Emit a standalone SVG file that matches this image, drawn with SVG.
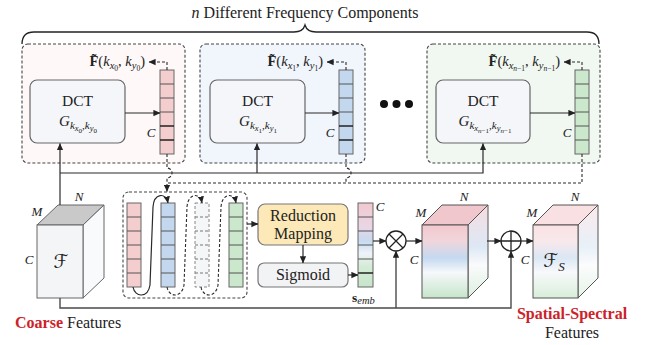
<svg xmlns="http://www.w3.org/2000/svg" width="648" height="345" viewBox="0 0 648 345">
<defs>
<marker id="ah" viewBox="0 0 10 10" refX="9.5" refY="5" markerWidth="7" markerHeight="7" orient="auto" markerUnits="userSpaceOnUse"><path d="M0,0.5 L10,5 L0,9.5 z" fill="#222"/></marker>
<linearGradient id="c2f" x1="0" y1="0" x2="0" y2="1"><stop offset="0" stop-color="#f2c8cd"/><stop offset="0.22" stop-color="#f0d6dc"/><stop offset="0.45" stop-color="#c4d9f0"/><stop offset="0.65" stop-color="#f6f8fb"/><stop offset="1" stop-color="#c6e5ca"/></linearGradient>
<linearGradient id="c2s" x1="0" y1="0" x2="0" y2="1"><stop offset="0" stop-color="#f6dde1"/><stop offset="0.45" stop-color="#dde8f5"/><stop offset="0.65" stop-color="#fafbfc"/><stop offset="1" stop-color="#dcefdf"/></linearGradient>
<linearGradient id="c3f" x1="0" y1="0" x2="0" y2="1"><stop offset="0" stop-color="#fae2e5"/><stop offset="0.22" stop-color="#f8e8eb"/><stop offset="0.45" stop-color="#dbe7f4"/><stop offset="0.65" stop-color="#f8f9fb"/><stop offset="1" stop-color="#d8eeda"/></linearGradient>
<linearGradient id="c3s" x1="0" y1="0" x2="0" y2="1"><stop offset="0" stop-color="#fbeaec"/><stop offset="0.45" stop-color="#e8f0f8"/><stop offset="0.65" stop-color="#fbfcfd"/><stop offset="1" stop-color="#e6f4e7"/></linearGradient>
<linearGradient id="se" x1="0" y1="0" x2="0" y2="1"><stop offset="0" stop-color="#f2c9cf"/><stop offset="0.3" stop-color="#e8d6e6"/><stop offset="0.45" stop-color="#c6daf0"/><stop offset="0.6" stop-color="#eef3f9"/><stop offset="0.75" stop-color="#d5ecd7"/><stop offset="1" stop-color="#c6e5c9"/></linearGradient>
</defs>
<style>
.t{font-family:"Liberation Serif","DejaVu Serif",serif;fill:#222}
.m{font-family:"Liberation Serif","DejaVu Serif",serif;font-style:italic;fill:#222}
.red{fill:#cc2229;font-weight:bold}
.up{font-style:normal}
.ln{fill:none;stroke:#2a2a2a;stroke-width:1.2}
.bl{fill:none;stroke:#4a4a4a;stroke-width:1.4}
.dl{fill:none;stroke:#2a2a2a;stroke-width:1.1;stroke-dasharray:3 2}
.panel{stroke:#444;stroke-width:1.1;stroke-dasharray:3 2}
.dct{fill:#f4f6f9;stroke:#666;stroke-width:1.2}
.cl{fill:none;stroke:#555;stroke-width:1}
.vk{stroke:#666;stroke-width:1}
.pk{fill:#f4cdcf}
.bu{fill:#c3d8ee}
.gr{fill:#cbe7cc}
.cal{font-family:"DejaVu Sans","Noto Sans",sans-serif;font-size:19px;fill:#222}
</style>

<!-- title and brace -->
<g id="title">
<text x="305" y="18" class="t" font-size="16" text-anchor="middle"><tspan font-style="italic">n</tspan> Different Frequency Components</text>
<path d="M22,44 Q22,32 34,32 L294,32 Q303,32 305,25 Q307,32 316,32 L587,32 Q599,32 599,44" fill="none" stroke="#222" stroke-width="1.3"/>
</g>

<!-- panel 0 -->
<g id="panel0">
<rect x="22" y="44" width="163" height="119" rx="6" fill="#fef8f8" class="panel"/>
<rect x="30" y="80" width="95" height="63" rx="7" class="dct"/>
<text x="77.5" y="106" class="t" font-size="15.5" text-anchor="middle">DCT</text>
<text x="78" y="126" class="m" font-size="15" text-anchor="middle">G<tspan font-size="11" dy="3">k</tspan><tspan font-size="8.5" dy="2">x</tspan><tspan font-size="7" dy="1.5" class="up">0</tspan><tspan font-size="11" dy="-3.5">,k</tspan><tspan font-size="8.5" dy="2">y</tspan><tspan font-size="7" dy="1.5" class="up">0</tspan></text>
<rect x="160" y="70" width="14" height="84" class="pk vk"/>
<path d="M160,84h14M160,98h14M160,112h14" class="cl"/>
<path d="M160,126h14M160,140h14" stroke="#222" stroke-width="1.6"/>
<text x="151" y="137" class="m" font-size="13" text-anchor="middle">C</text>
<text x="145" y="66" class="t" font-size="14.5" text-anchor="end"><tspan font-weight="bold">F̃</tspan>(<tspan font-style="italic">k</tspan><tspan font-size="10.5" dy="3" font-style="italic">x</tspan><tspan font-size="7.5" dy="1.5">0</tspan><tspan dy="-4.5">, </tspan><tspan font-style="italic">k</tspan><tspan font-size="10.5" dy="3" font-style="italic">y</tspan><tspan font-size="7.5" dy="1.5">0</tspan><tspan dy="-4.5">)</tspan></text>
</g>

<!-- panel 1 -->
<g id="panel1">
<rect x="200" y="44" width="165" height="119" rx="6" fill="#f1f5fc" class="panel"/>
<rect x="210" y="80" width="95" height="63" rx="7" class="dct"/>
<text x="257.5" y="106" class="t" font-size="15.5" text-anchor="middle">DCT</text>
<text x="258" y="126" class="m" font-size="15" text-anchor="middle">G<tspan font-size="11" dy="3">k</tspan><tspan font-size="8.5" dy="2">x</tspan><tspan font-size="7" dy="1.5" class="up">1</tspan><tspan font-size="11" dy="-3.5">,k</tspan><tspan font-size="8.5" dy="2">y</tspan><tspan font-size="7" dy="1.5" class="up">1</tspan></text>
<rect x="339" y="70" width="14" height="84" class="bu vk"/>
<path d="M339,84h14M339,98h14M339,112h14" class="cl"/>
<path d="M339,126h14M339,140h14" stroke="#222" stroke-width="1.6"/>
<text x="330" y="137" class="m" font-size="13" text-anchor="middle">C</text>
<text x="323" y="66" class="t" font-size="14.5" text-anchor="end"><tspan font-weight="bold">F̃</tspan>(<tspan font-style="italic">k</tspan><tspan font-size="10.5" dy="3" font-style="italic">x</tspan><tspan font-size="7.5" dy="1.5">1</tspan><tspan dy="-4.5">, </tspan><tspan font-style="italic">k</tspan><tspan font-size="10.5" dy="3" font-style="italic">y</tspan><tspan font-size="7.5" dy="1.5">1</tspan><tspan dy="-4.5">)</tspan></text>
</g>

<g id="dots" fill="#111">
<circle cx="384" cy="104" r="4"/><circle cx="396.5" cy="104" r="4"/><circle cx="409" cy="104" r="4"/>
</g>

<!-- panel 2 -->
<g id="panel2">
<rect x="427" y="44" width="173" height="119" rx="6" fill="#f1f8f1" class="panel"/>
<rect x="436" y="80" width="94" height="63" rx="7" class="dct"/>
<text x="483" y="106" class="t" font-size="15.5" text-anchor="middle">DCT</text>
<text x="485" y="126" class="m" font-size="15" text-anchor="middle">G<tspan font-size="11" dy="3">k</tspan><tspan font-size="8.5" dy="2">x</tspan><tspan font-size="7" dy="1.5">n</tspan><tspan font-size="7" class="up">−1</tspan><tspan font-size="11" dy="-3.5">,k</tspan><tspan font-size="8.5" dy="2">y</tspan><tspan font-size="7" dy="1.5">n</tspan><tspan font-size="7" class="up">−1</tspan></text>
<rect x="575" y="70" width="14" height="84" class="gr vk"/>
<path d="M575,84h14M575,98h14M575,112h14M575,126h14M575,140h14" class="cl"/>
<text x="567" y="137" class="m" font-size="13" text-anchor="middle">C</text>
<text x="560" y="66" class="t" font-size="14.5" text-anchor="end"><tspan font-weight="bold">F̃</tspan>(<tspan font-style="italic">k</tspan><tspan font-size="10.5" dy="3" font-style="italic">x</tspan><tspan font-size="7.5" dy="1.5" font-style="italic">n</tspan><tspan font-size="7.5">−1</tspan><tspan dy="-4.5">, </tspan><tspan font-style="italic">k</tspan><tspan font-size="10.5" dy="3" font-style="italic">y</tspan><tspan font-size="7.5" dy="1.5" font-style="italic">n</tspan><tspan font-size="7.5">−1</tspan><tspan dy="-4.5">)</tspan></text>
</g>

<!-- input cube -->
<g id="cubeF">
<polygon points="37,225 58,205 104,205 83,225" fill="#c9c9c9" stroke="#666" stroke-width="1"/>
<polygon points="83,225 104,205 104,278 83,298" fill="#f9fafb" stroke="#666" stroke-width="1"/>
<rect x="37" y="225" width="46" height="73" fill="#f4f5f7" stroke="#666" stroke-width="1"/>
<text x="61" y="268" class="cal" text-anchor="middle">ℱ</text>
<text x="37" y="216" class="m" font-size="13" text-anchor="middle">M</text>
<text x="79" y="201" class="m" font-size="13" text-anchor="middle">N</text>
<text x="29" y="264" class="m" font-size="13" text-anchor="middle">C</text>
<text x="15" y="328" class="t" font-size="16"><tspan class="red">Coarse</tspan> Features</text>
</g>

<!-- concatenation -->
<g id="concat">
<rect x="123" y="192" width="124" height="106" rx="6" fill="none" class="panel"/>
<rect x="127" y="203" width="14" height="84" class="pk vk"/>
<path d="M127,217h14M127,231h14M127,245h14M127,259h14M127,273h14" class="cl"/>
<rect x="161" y="203" width="14" height="84" class="bu vk"/>
<path d="M161,217h14M161,231h14M161,245h14M161,259h14M161,273h14" class="cl"/>
<rect x="195" y="203" width="14" height="84" fill="#f5f6f8" stroke="#888" stroke-width="1" stroke-dasharray="3 2"/>
<path d="M195,217h14M195,231h14M195,245h14M195,259h14M195,273h14" stroke="#777" stroke-width="1" stroke-dasharray="3 2"/>
<rect x="229" y="203" width="14" height="84" class="gr vk"/>
<path d="M229,217h14M229,231h14M229,245h14M229,259h14M229,273h14" class="cl"/>
<path d="M133,287 C135,298 148,298 150,285 L153,207 C154,193 166,192 168,203" class="ln" marker-end="url(#ah)"/>
<path d="M167,287 C169,298 182,298 184,285 L187,207 C188,193 200,192 202,203" class="dl" marker-end="url(#ah)"/>
<path d="M201,287 C203,298 216,298 218,285 L221,207 C222,193 234,192 236,203" class="dl" marker-end="url(#ah)"/>
</g>

<g id="reduction">
<rect x="258" y="204" width="90" height="41" rx="7" fill="#fce9b7" stroke="#777" stroke-width="1.2"/>
<text x="303" y="221" class="t" font-size="16" text-anchor="middle">Reduction</text>
<text x="303" y="239" class="t" font-size="16" text-anchor="middle">Mapping</text>
</g>

<g id="sigmoid">
<rect x="258" y="263" width="90" height="24" rx="6" fill="#f2f3f5" stroke="#777" stroke-width="1.2"/>
<text x="303" y="280" class="t" font-size="16" text-anchor="middle">Sigmoid</text>
</g>

<g id="semb">
<rect x="358" y="203" width="15" height="84" fill="url(#se)" stroke="#666" stroke-width="1"/>
<path d="M358,217h15M358,231h15M358,245h15M358,259h15" class="cl"/>
<path d="M358,273h15" stroke="#222" stroke-width="1.5"/>
<text x="380" y="211" class="m" font-size="13" text-anchor="middle">C</text>
<text x="352" y="302" class="t" font-size="13.5"><tspan font-weight="bold">s</tspan><tspan font-style="italic" font-size="10.5" dy="2">emb</tspan></text>
</g>

<g id="mul">
<circle cx="396" cy="241" r="10" fill="#fff" stroke="#222" stroke-width="1.3"/>
<path d="M389,234 L403,248 M403,234 L389,248" stroke="#222" stroke-width="1.3"/>
</g>

<g id="cube2">
<polygon points="422,225 442,205 488,205 468,225" fill="#f0c7cc" stroke="#555" stroke-width="1"/>
<polygon points="468,225 488,205 488,278 468,298" fill="url(#c2s)" stroke="#555" stroke-width="1"/>
<rect x="422" y="225" width="46" height="73" fill="url(#c2f)" stroke="#555" stroke-width="1"/>
<text x="421" y="217" class="m" font-size="13" text-anchor="middle">M</text>
<text x="464" y="201" class="m" font-size="13" text-anchor="middle">N</text>
<text x="414" y="264" class="m" font-size="13" text-anchor="middle">C</text>
</g>

<g id="add">
<circle cx="511" cy="241" r="10" fill="#fff" stroke="#222" stroke-width="1.3"/>
<path d="M501,241 H521 M511,231 V251" stroke="#222" stroke-width="1.3"/>
</g>

<g id="cubeFS">
<polygon points="533,225 553,205 598,205 578,225" fill="#f9e0e3" stroke="#555" stroke-width="1"/>
<polygon points="578,225 598,205 598,278 578,298" fill="url(#c3s)" stroke="#555" stroke-width="1"/>
<rect x="533" y="225" width="45" height="73" fill="url(#c3f)" stroke="#555" stroke-width="1"/>
<text x="554" y="267" class="cal" text-anchor="middle">ℱ<tspan font-family="Liberation Serif, serif" font-style="italic" font-size="13" dy="4">S</tspan></text>
<text x="532" y="217" class="m" font-size="13" text-anchor="middle">M</text>
<text x="575" y="201" class="m" font-size="13" text-anchor="middle">N</text>
<text x="525" y="264" class="m" font-size="13" text-anchor="middle">C</text>
<text x="572" y="319" class="t red" font-size="16" text-anchor="middle">Spatial-Spectral</text>
<text x="572" y="338" class="t" font-size="16" text-anchor="middle">Features</text>
</g>

<!-- connectors -->
<g id="connectors">
<path d="M60,205 V143.5" class="ln" marker-end="url(#ah)"/>
<path d="M60,173 H483 V143.5" class="ln" marker-end="url(#ah)"/>
<path d="M257,173 V143.5" class="ln" marker-end="url(#ah)"/>
<path d="M125,113 H160" class="ln" marker-end="url(#ah)"/>
<path d="M305,113 H339" class="ln" marker-end="url(#ah)"/>
<path d="M530,113 H575" class="ln" marker-end="url(#ah)"/>
<path d="M167,70 V62 H149" class="dl" marker-end="url(#ah)"/>
<path d="M346,70 V62 H327" class="dl" marker-end="url(#ah)"/>
<path d="M582,70 V62 H564" class="dl" marker-end="url(#ah)"/>
<path d="M167,154 V168 A5,5 0 0 1 167,178 V183" class="dl"/>
<path d="M346,154 V168 A5,5 0 0 1 346,178 V183" class="dl"/>
<path d="M582,154 V183 H167 V191.5" class="dl" marker-end="url(#ah)"/>
<path d="M247,224 H258" class="ln" marker-end="url(#ah)"/>
<path d="M303,245 V263" class="ln" marker-end="url(#ah)"/>
<path d="M348,275 H358" class="ln" marker-end="url(#ah)"/>
<path d="M373,241 H386" class="ln" marker-end="url(#ah)"/>
<path d="M406,241 H422" class="ln" marker-end="url(#ah)"/>
<path d="M487,241 H501" class="ln" marker-end="url(#ah)"/>
<path d="M521,241 H533" class="ln" marker-end="url(#ah)"/>
<path d="M60,298 V308 H511 V251" class="bl" marker-end="url(#ah)"/>
<path d="M396,308 V251" class="bl" marker-end="url(#ah)"/>
</g>
</svg>
